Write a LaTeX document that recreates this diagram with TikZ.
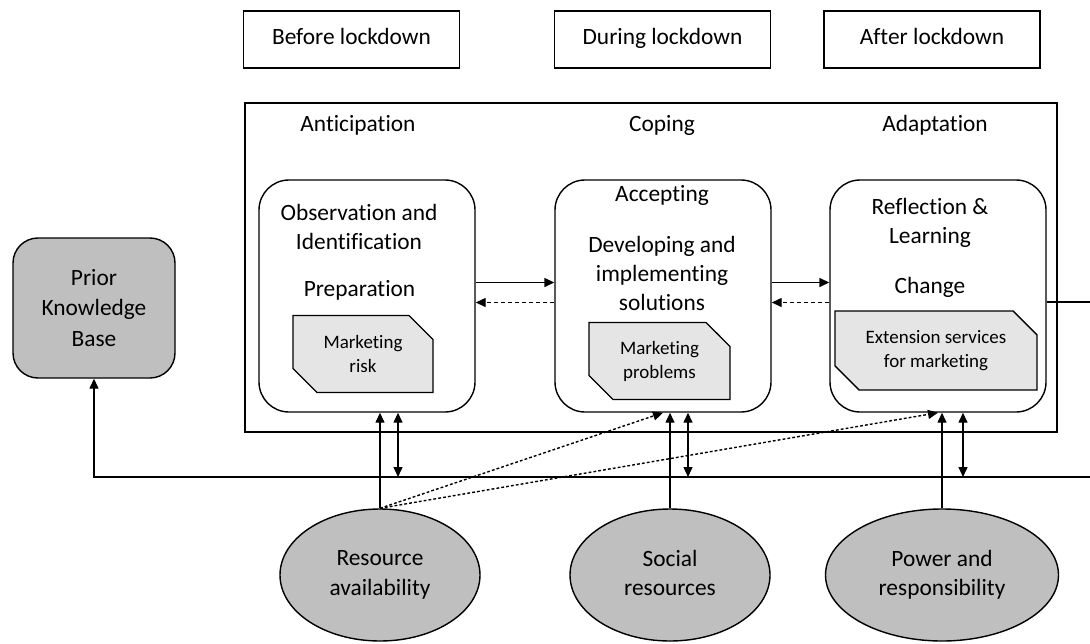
\documentclass[tikz,border=0pt]{standalone}
\usepackage{fontspec}
\setmainfont{Carlito}[Ligatures=NoCommon]
\usepackage{tikz}
\usetikzlibrary{arrows.meta,positioning,shapes.geometric,shapes.misc,calc}

\begin{document}
\begin{tikzpicture}[
  font=\fontsize{13.3}{16.5}\selectfont,
  phasebox/.style={draw, thick, minimum width=4.32cm, minimum height=1.14cm, text height=1.6ex, text depth=0.5ex},
  stagebox/.style={draw, thick, rounded corners=0.6cm, minimum width=4.32cm, minimum height=4.64cm},
  notebox/.style={draw, thick, fill=gray!20, chamfered rectangle, chamfered rectangle corners={north east,south west},
    chamfered rectangle sep=0.24cm, inner sep=0pt, minimum height=1.54cm, align=center, font=\fontsize{10.8}{13.6}\selectfont},
  factor/.style={draw, thick, ellipse, fill=gray!50, minimum height=2.64cm, inner sep=0pt, align=center,
    text depth=0.5ex, font=\fontsize{13.3}{16.8}\selectfont},
  tip/.style={-{Triangle[length=0.2cm,width=0.18cm]}},
  dbltip/.style={{Triangle[length=0.2cm,width=0.18cm]}-{Triangle[length=0.2cm,width=0.18cm]}},
  back/.style={dash pattern=on 2.5pt off 1.5pt},
  infl/.style={dash pattern=on 1.6pt off 1.2pt}
]
  \useasboundingbox (0,0) rectangle (21.8,12.86);

  % Lockdown periods
  \node[phasebox] (before) at (7.03, 12.07) {Before lockdown};
  \node[phasebox] (during) at (13.25, 12.07) {During lockdown};
  \node[phasebox] (after) at (18.64, 12.07) {After lockdown};

  % Resilience frame
  \draw[thick] (4.9, 4.22) rectangle (21.14, 10.8);
  \node (antlbl) at (7.16, 10.36) {Anticipation};
  \node (coplbl) at (13.24, 10.36) {Coping};
  \node (adplbl) at (18.7, 10.36) {Adaptation};

  % Anticipation
  \node[stagebox] (ant) at (7.34, 6.94) {};
  \node[align=center] (obs) at (7.18, 8.33) {Observation and\\Identification};
  \node (prep) at (7.19, 7.06) {Preparation};
  \node[notebox, minimum width=2.8cm] (risk) at (7.26, 5.78) {Marketing\\risk};

  % Coping
  \node[stagebox] (cop) at (13.26, 6.94) {};
  \node (acc) at (13.24, 8.96) {Accepting};
  \node[align=center] (dev) at (13.24, 7.40) {Developing and\\implementing\\solutions};
  \node[notebox, minimum width=2.82cm] (prob) at (13.19, 5.64) {Marketing\\problems};

  % Adaptation
  \node[stagebox] (adp) at (18.76, 6.94) {};
  \node[align=center] (refl) at (18.6, 8.40) {Reflection \&\\Learning};
  \node (chg) at (18.6, 7.12) {Change};
  \node[notebox, minimum width=4.04cm, minimum height=1.58cm] (ext) at (18.72, 5.85) {Extension services\\for marketing};

  % Prior knowledge
  \node[draw, thick, rounded corners=0.5cm, fill=gray!50, minimum width=3.24cm, minimum height=2.8cm,
    align=center, font=\fontsize{13.3}{17.6}\selectfont] (prior) at (1.88, 6.70) {Prior\\Knowledge\\Base};

  % Factors
  \node[factor, minimum width=4.0cm] (res) at (7.6, 1.36) {Resource\\availability};
  \node[factor, minimum width=4.0cm] (soc) at (13.4, 1.36) {Social\\resources};
  \node[factor, minimum width=4.66cm] (pow) at (18.84, 1.36) {Power and\\responsibility};

  % Stage links
  \draw[thick, tip] ($(ant.east)+(0,0.27)$) -- ($(cop.west)+(0,0.27)$);
  \draw[thick, tip, back] ($(cop.west)+(0,-0.13)$) -- ($(ant.east)+(0,-0.13)$);
  \draw[thick, tip] ($(cop.east)+(0,0.27)$) -- ($(adp.west)+(0,0.27)$);
  \draw[thick, tip, back] ($(adp.west)+(0,-0.13)$) -- ($(cop.east)+(0,-0.13)$);

  % Feedback loop
  \coordinate (exit) at (21.8, 6.82);
  \coordinate (base) at (21.8, 3.32);
  \draw[thick] (adp.east |- exit) -- (exit);
  \draw[thick, tip] (base) -- (prior.south |- base) -- (prior.south);

  % Factor influence
  \draw[thick, tip] (res.north) -- (res.north |- ant.south);
  \draw[thick, tip] (soc.north) -- (soc.north |- cop.south);
  \draw[thick, tip] (pow.north) -- (pow.north |- adp.south);
  \draw[thick, dbltip] ($(res.north |- base)+(0.36,0)$) -- ($(res.north |- ant.south)+(0.36,0)$);
  \draw[thick, dbltip] ($(soc.north |- base)+(0.36,0)$) -- ($(soc.north |- cop.south)+(0.36,0)$);
  \draw[thick, dbltip] ($(pow.north |- base)+(0.42,0)$) -- ($(pow.north |- adp.south)+(0.42,0)$);
  \draw[thick, tip, infl] (res.north) -- (cop.south);
  \draw[thick, tip, infl] (res.north) -- (adp.south);
\end{tikzpicture}
\end{document}
